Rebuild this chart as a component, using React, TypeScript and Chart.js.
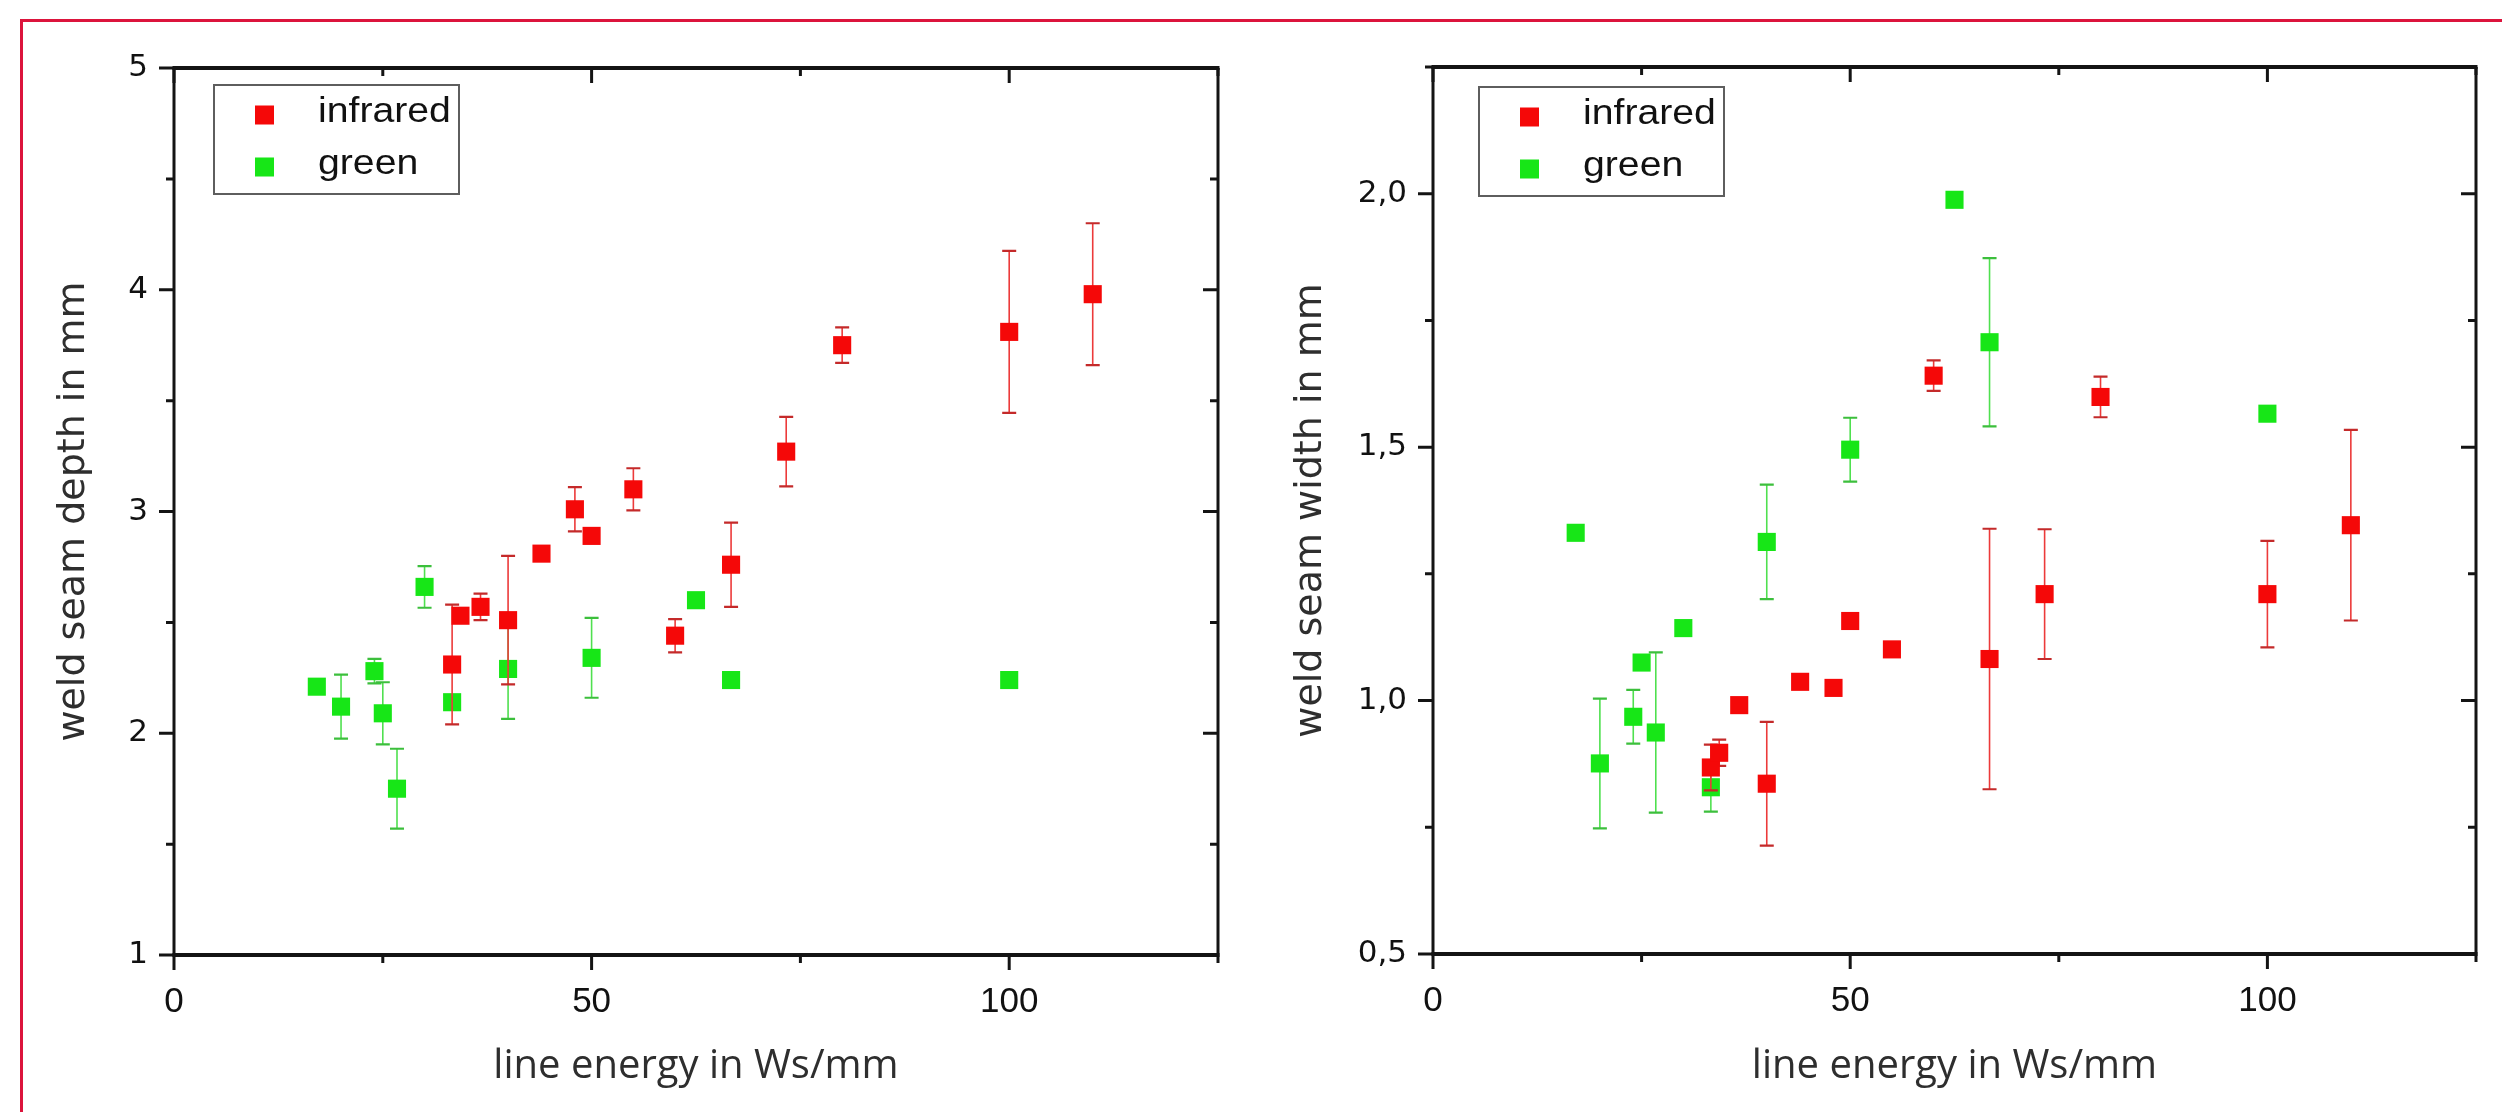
import React, { useEffect, useRef } from 'react';
import { Chart, registerables } from 'chart.js';

Chart.register(...registerables);

// ---------- data: left panel (weld seam depth) ----------
const depthInfraredX = [33.3, 34.3, 36.7, 40, 44, 48, 50, 55, 60, 66.7, 73.3, 80, 100, 110];
const depthInfraredY = [2.31, 2.53, 2.57, 2.51, 2.81, 3.01, 2.89, 3.10, 2.44, 2.76, 3.27, 3.75, 3.81, 3.98];
const depthInfraredErr = [0.27, 0, 0.06, 0.29, 0, 0.10, 0, 0.095, 0.075, 0.19, 0.157, 0.08, 0.365, 0.32];
const depthGreenX = [17.1, 20, 24, 25, 26.7, 30, 33.3, 40, 50, 62.5, 66.7, 100];
const depthGreenY = [2.21, 2.12, 2.28, 2.09, 1.75, 2.66, 2.14, 2.29, 2.34, 2.60, 2.24, 2.24];
const depthGreenErr = [0, 0.144, 0.055, 0.14, 0.18, 0.094, 0, 0.225, 0.18, 0, 0, 0];

// ---------- data: right panel (weld seam width) ----------
const widthInfraredX = [33.3, 34.3, 36.7, 40, 44, 48, 50, 55, 60, 66.7, 73.3, 80, 100, 110];
const widthInfraredY = [0.868, 0.897, 0.991, 0.836, 1.037, 1.025, 1.157, 1.101, 1.641, 1.082, 1.21, 1.599, 1.21, 1.346];
const widthInfraredErr = [0.045, 0.026, 0, 0.122, 0, 0, 0, 0, 0.03, 0.257, 0.128, 0.04, 0.105, 0.188];
const widthGreenX = [17.1, 20, 24, 25, 26.7, 30, 33.3, 40, 50, 62.5, 66.7, 100];
const widthGreenY = [1.331, 0.876, 0.968, 1.075, 0.937, 1.143, 0.829, 1.313, 1.495, 1.988, 1.707, 1.566];
const widthGreenErr = [0, 0.128, 0.053, 0, 0.158, 0, 0.048, 0.113, 0.063, 0, 0.166, 0];

// ---------- labels ----------
const seriesLabels = ['infrared', 'green'];
const xTitle = 'line energy in Ws/mm';
const depthTitle = 'weld seam depth in mm';
const widthTitle = 'weld seam width in mm';

const RED = '#f50808';
const GREEN = '#17e617';

const errorBarsPlugin = {
  id: 'errorBars',
  beforeDatasetDraw(chart: any, args: any) {
    const ds = chart.data.datasets[args.index];
    const errs: number[] = ds.errors || [];
    const xs = chart.scales.x;
    const ys = chart.scales.y;
    const ctx = chart.ctx;
    ctx.save();
    ds.data.forEach((p: any, i: number) => {
      const e = errs[i];
      if (!e) return;
      const px = xs.getPixelForValue(p.x);
      const yt = ys.getPixelForValue(p.y + e);
      const yb = ys.getPixelForValue(p.y - e);
      ctx.strokeStyle = ds.barColor;
      ctx.lineWidth = 1.6;
      ctx.beginPath();
      ctx.moveTo(px, yt);
      ctx.lineTo(px, yb);
      ctx.stroke();
      ctx.strokeStyle = ds.capColor;
      ctx.lineWidth = 2.2;
      ctx.beginPath();
      ctx.moveTo(px - 7, yt);
      ctx.lineTo(px + 7, yt);
      ctx.moveTo(px - 7, yb);
      ctx.lineTo(px + 7, yb);
      ctx.stroke();
    });
    ctx.restore();
  },
};

const frameTicksPlugin = {
  id: 'frameTicks',
  afterDraw(chart: any) {
    const { ctx, chartArea: a, scales } = chart;
    const o = chart.options.plugins.frameTicks || {};
    const xs = scales.x;
    const ys = scales.y;
    const major = 15;
    const minor = 8;
    const isMul = (v: number, m: number) => Math.abs(v / m - Math.round(v / m)) < 1e-6;
    ctx.save();
    ctx.strokeStyle = '#141414';
    ctx.lineWidth = 3;
    xs.ticks.forEach((t: any) => {
      const px = xs.getPixelForValue(t.value);
      const len = isMul(t.value, o.xMajor) ? major : minor;
      ctx.beginPath();
      ctx.moveTo(px, a.bottom);
      ctx.lineTo(px, a.bottom + len);
      ctx.moveTo(px, a.top);
      ctx.lineTo(px, a.top + len);
      ctx.stroke();
    });
    ys.ticks.forEach((t: any) => {
      const py = ys.getPixelForValue(t.value);
      const len = isMul(t.value, o.yMajor) ? major : minor;
      ctx.beginPath();
      ctx.moveTo(a.left, py);
      ctx.lineTo(a.left - len, py);
      ctx.moveTo(a.right, py);
      ctx.lineTo(a.right - len, py);
      ctx.stroke();
    });
    // frame
    ctx.lineWidth = 4;
    ctx.beginPath();
    ctx.moveTo(a.left - 1.5, a.top);
    ctx.lineTo(a.right + 1.5, a.top);
    ctx.moveTo(a.left - 1.5, a.bottom);
    ctx.lineTo(a.right + 1.5, a.bottom);
    ctx.stroke();
    ctx.lineWidth = 3;
    ctx.beginPath();
    ctx.moveTo(a.left, a.top);
    ctx.lineTo(a.left, a.bottom);
    ctx.moveTo(a.right, a.top);
    ctx.lineTo(a.right, a.bottom);
    ctx.stroke();
    ctx.restore();
  },
};

const boxLegendPlugin = {
  id: 'boxLegend',
  afterDraw(chart: any) {
    const { ctx, chartArea: a } = chart;
    const o = chart.options.plugins.boxLegend || {};
    const bx = a.left + o.dx;
    const by = a.top + o.dy;
    const bw = 245;
    const bh = 109;
    ctx.save();
    ctx.fillStyle = '#ffffff';
    ctx.fillRect(bx, by, bw, bh);
    ctx.strokeStyle = '#5e5e5e';
    ctx.lineWidth = 2;
    ctx.strokeRect(bx, by, bw, bh);
    const rows = [30, 82];
    chart.data.datasets.forEach((ds: any, i: number) => {
      const cy = by + rows[i];
      ctx.fillStyle = ds.backgroundColor;
      ctx.fillRect(bx + 41, cy - 9.5, 19, 19);
      ctx.save();
      ctx.translate(bx + 104, cy + 7);
      ctx.scale(1.12, 1);
      ctx.fillStyle = '#111';
      ctx.font = '35px "Liberation Sans", Arial, sans-serif';
      ctx.textBaseline = 'alphabetic';
      ctx.textAlign = 'left';
      ctx.fillText(ds.label, 0, 0);
      ctx.restore();
    });
    ctx.restore();
  },
};

type PanelProps = {
  left: number;
  width: number;
  yWidth: number;
  padRight: number;
  padTop: number;
  xHeight: number;
  yTitle: string;
  yTitlePad: number;
  yMin: number;
  yMax: number;
  yStep: number;
  yMajor: number;
  yFmt: (v: number) => string;
  redX: number[];
  redY: number[];
  redErr: number[];
  greenX: number[];
  greenY: number[];
  greenErr: number[];
  legendDx: number;
  legendDy: number;
};

function Panel(p: PanelProps) {
  const ref = useRef<HTMLCanvasElement | null>(null);
  useEffect(() => {
    if (!ref.current) return;
    const isMul = (v: number, m: number) => Math.abs(v / m - Math.round(v / m)) < 1e-6;
    const chart = new Chart(ref.current, {
      type: 'scatter',
      data: {
        datasets: [
          {
            label: seriesLabels[0],
            data: p.redX.map((x, i) => ({ x, y: p.redY[i] })),
            errors: p.redErr,
            barColor: '#ec3a3a',
            capColor: '#c42a2a',
            backgroundColor: RED,
            borderColor: RED,
            borderWidth: 0,
            pointStyle: 'rect',
            pointRadius: 12.8,
            pointHoverRadius: 12.8,
          } as any,
          {
            label: seriesLabels[1],
            data: p.greenX.map((x, i) => ({ x, y: p.greenY[i] })),
            errors: p.greenErr,
            barColor: '#4fe04f',
            capColor: '#3cbf3c',
            backgroundColor: GREEN,
            borderColor: GREEN,
            borderWidth: 0,
            pointStyle: 'rect',
            pointRadius: 12.8,
            pointHoverRadius: 12.8,
          } as any,
        ],
      },
      options: {
        animation: false,
        responsive: false,
        devicePixelRatio: 1,
        layout: { padding: { left: 0, top: p.padTop, right: p.padRight, bottom: 0 } },
        plugins: {
          legend: { display: false },
          tooltip: { enabled: false },
          frameTicks: { xMajor: 50, yMajor: p.yMajor },
          boxLegend: { dx: p.legendDx, dy: p.legendDy },
        } as any,
        scales: {
          x: {
            type: 'linear',
            position: 'bottom',
            min: 0,
            max: 125,
            grid: { display: false, drawTicks: false },
            border: { display: false },
            afterFit: (s: any) => {
              s.height = p.xHeight;
            },
            ticks: {
              stepSize: 25,
              autoSkip: false,
              maxRotation: 0,
              minRotation: 0,
              padding: 26,
              color: '#111',
              font: { family: '"Liberation Sans", Arial, sans-serif', size: 35 },
              callback: (v: any) => (isMul(Number(v), 50) ? String(v) : ''),
            },
            title: {
              display: true,
              text: xTitle,
              color: '#2e2e2e',
              font: { family: '"Open Sans", sans-serif', size: 40 },
              padding: { top: 0, bottom: 21 },
            },
          },
          y: {
            type: 'linear',
            position: 'left',
            min: p.yMin,
            max: p.yMax,
            grid: { display: false, drawTicks: false },
            border: { display: false },
            afterFit: (s: any) => {
              s.width = p.yWidth;
            },
            ticks: {
              stepSize: p.yStep,
              autoSkip: false,
              padding: 26,
              color: '#111',
              font: { family: '"DejaVu Sans", sans-serif', size: 31 },
              callback: (v: any) => (isMul(Number(v), p.yMajor) ? p.yFmt(Number(v)) : ''),
            },
            title: {
              display: true,
              text: p.yTitle,
              color: '#2e2e2e',
              font: { family: '"DejaVu Sans", sans-serif', size: 38 },
              padding: { top: p.yTitlePad, bottom: 0 },
            },
          },
        },
      } as any,
      plugins: [errorBarsPlugin, frameTicksPlugin, boxLegendPlugin],
    });
    return () => chart.destroy();
  }, []);
  return (
    <canvas
      ref={ref}
      width={p.width}
      height={1112}
      style={{ position: 'absolute', left: p.left, top: 0, width: p.width, height: 1112 }}
    />
  );
}

export default function App() {
  return (
    <div
      style={{
        position: 'fixed',
        left: 0,
        top: 0,
        width: 2502,
        height: 1112,
        overflow: 'hidden',
        background: '#ffffff',
      }}
    >
      <Panel
        left={0}
        width={1251}
        yWidth={174}
        padRight={33}
        padTop={68}
        xHeight={157}
        yTitle={depthTitle}
        yTitlePad={51}
        yMin={1}
        yMax={5}
        yStep={0.5}
        yMajor={1}
        yFmt={(v) => String(v)}
        redX={depthInfraredX}
        redY={depthInfraredY}
        redErr={depthInfraredErr}
        greenX={depthGreenX}
        greenY={depthGreenY}
        greenErr={depthGreenErr}
        legendDx={40}
        legendDy={17}
      />
      <Panel
        left={1251}
        width={1251}
        yWidth={182}
        padRight={26}
        padTop={67}
        xHeight={158}
        yTitle={widthTitle}
        yTitlePad={37}
        yMin={0.5}
        yMax={2.25}
        yStep={0.25}
        yMajor={0.5}
        yFmt={(v) => v.toFixed(1).replace('.', ',')}
        redX={widthInfraredX}
        redY={widthInfraredY}
        redErr={widthInfraredErr}
        greenX={widthGreenX}
        greenY={widthGreenY}
        greenErr={widthGreenErr}
        legendDx={46}
        legendDy={20}
      />
      <div
        style={{
          position: 'absolute',
          left: 20,
          top: 19,
          width: 2600,
          height: 1200,
          border: '3px solid #dc143c',
          boxSizing: 'border-box',
          pointerEvents: 'none',
        }}
      />
    </div>
  );
}
